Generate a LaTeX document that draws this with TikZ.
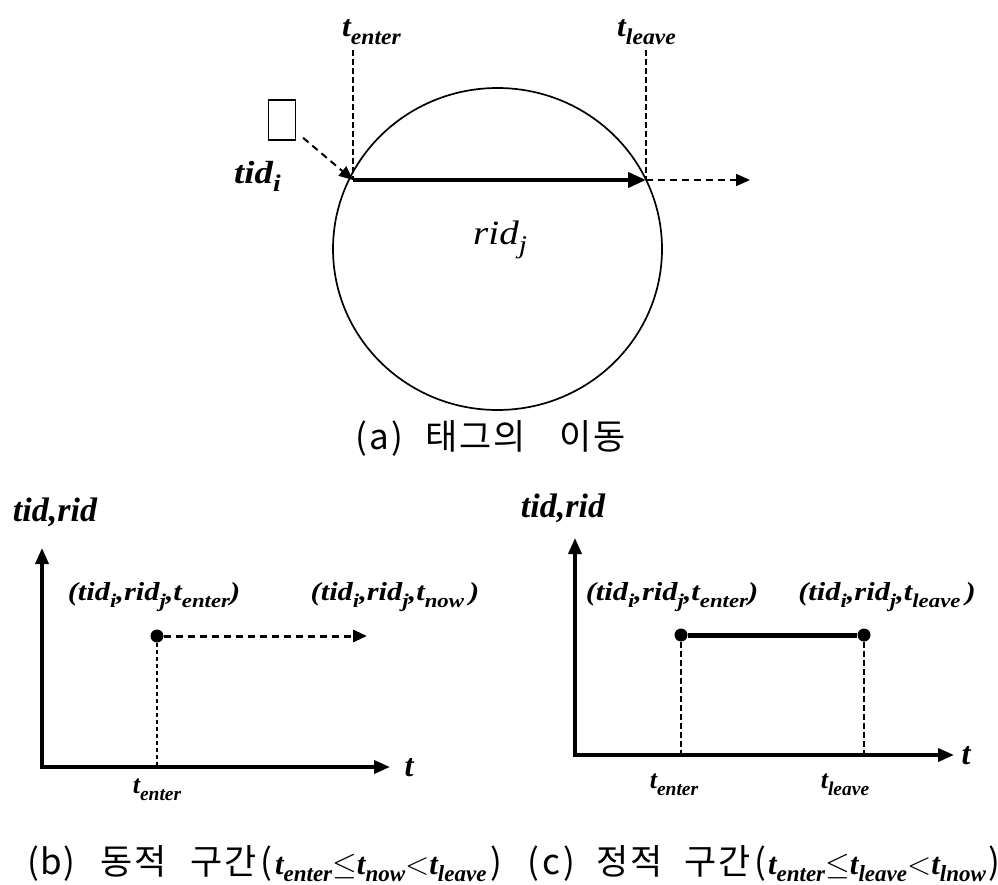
\documentclass[tikz,border=0pt]{standalone}
\usepackage{fontspec}
\usepackage{graphicx}
\setmainfont{Liberation Serif}
\newfontfamily\kr{Noto Sans CJK KR}
\usetikzlibrary{arrows.meta,shapes.geometric}
\newcommand{\lo}[1]{\raisebox{-0.25em}{\scalebox{0.75}{#1}}}
\newcommand{\fsz}[1]{\fontsize{#1}{#1}\selectfont}
\newcommand{\wx}[2]{\scalebox{#1}[1]{#2}}
\newcommand{\hb}[1]{\makebox[34pt][c]{#1}}
\newcommand{\capsub}[1]{\scalebox{1.28}{\rmfamily\bfseries\itshape\fsz{24}#1}}
\begin{document}
\begin{tikzpicture}[x=1pt,y=-1pt,
  lbl/.style={inner sep=0pt, font=\bfseries\itshape},
  tipA/.style={-{Triangle[length=14pt,width=12pt]}},
  dsh/.style={dash pattern=on 7pt off 5pt, line width=2pt},
  fine/.style={dash pattern=on 6pt off 3pt, line width=1.8pt},
  dotted2/.style={dash pattern=on 4pt off 3pt, line width=2pt},
  axis/.style={line width=3.5pt, -{Triangle[length=16pt,width=13pt]}},
  dot/.style={circle, fill=black, minimum size=13pt, inner sep=0pt},
  captxt/.style={inner sep=0pt, font=\kr\fsz{35}, anchor=base west},
  tuple/.style={inner sep=0pt, font=\bfseries\itshape\fsz{26}},
]
\useasboundingbox (0,0) rectangle (998,885);

% ---------- (a) ----------
\node[ellipse, draw, line width=1.7pt, minimum width=329pt, minimum height=322pt, inner sep=0pt] (circ) at (497.5,249) {};
\node[draw, line width=1.5pt, minimum width=27pt, minimum height=40pt, inner sep=0pt] (tag) at (282,120) {};
\coordinate (in) at (353,180);
\coordinate (out) at (646,180);
\coordinate (far) at (750,180);
\coordinate (inTop) at (353,50);
\coordinate (outTop) at (646,50);
\node[lbl, anchor=base west] (tenter) at (342,37) {\fsz{30}\wx{1.05}{t\lo{enter}}};
\node[lbl, anchor=base west] (tleave) at (617,37) {\fsz{30}\wx{1.05}{t\lo{leave}}};
\node[lbl, anchor=base west] (tid) at (234,184) {\fsz{32}\wx{1.15}{tid\lo{i}}};
\node[inner sep=0pt, font=\itshape\fsz{34}, anchor=base west] (rid) at (473,245) {\wx{1.15}{rid\lo{j}}};
\draw[fine] (inTop) -- (in);
\draw[fine] (outTop) -- (out);
\draw[dsh, tipA, shorten <=9pt] (tag) -- (in);
\draw[line width=4pt, -{Triangle[length=18pt,width=15pt]}] (in) -- (out);
\draw[dsh, tipA] (out) -- (far);
\node[captxt] (capa) at (355,449) {\makebox[48pt][s]{(\hfill a\hfill)}\hspace{21pt}\hb{태}\hb{그}\hb{의}\hspace{32pt}\hb{이}\hb{동}};

% ---------- (b) ----------
\coordinate (bO) at (42,767);
\coordinate (bY) at (42,548);
\coordinate (bX) at (390,767);
\node[lbl, font=\bfseries\itshape\fsz{34}] (bax) at (55,512) {tid,rid};
\draw[axis] (bO) -- (bY);
\draw[axis] ([xshift=-2pt]bO) -- (bX);
\node[lbl, font=\bfseries\itshape\fsz{32}] (bt) at (409,768) {t};
\node[dot] (bP) at (157,636) {};
\coordinate (bEnd) at (367,636);
\draw[dsh, line width=3pt, tipA] (bP) -- (bEnd);
\draw[dotted2] (bP) -- (bP |- bO);
\node[tuple] (bl1) at (154,597) {\wx{1.17}{(tid\lo{i},rid\lo{j},t\lo{enter})}};
\node[tuple] (bl2) at (395,597) {\wx{1.17}{(tid\lo{i},rid\lo{j},t\lo{now}\,)}};
\node[lbl, font=\bfseries\itshape\fsz{26}] (bte) at (157,790) {t\lo{enter}};

% ---------- (c) ----------
\coordinate (cO) at (575,755);
\coordinate (cY) at (575,538);
\coordinate (cX) at (954,755);
\node[lbl, font=\bfseries\itshape\fsz{34}] (cax) at (563,508) {tid,rid};
\draw[axis] (cO) -- (cY);
\draw[axis] ([xshift=-2pt]cO) -- (cX);
\node[lbl, font=\bfseries\itshape\fsz{32}] (ct) at (966,756) {t};
\node[dot] (cP) at (681,635) {};
\node[dot] (cQ) at (864,635) {};
\draw[line width=5pt] (cP) -- (cQ);
\draw[fine] (cP) -- (cP |- cO);
\draw[fine] (cQ) -- (cQ |- cO);
\node[tuple] (cl1) at (672,597) {\wx{1.17}{(tid\lo{i},rid\lo{j},t\lo{enter})}};
\node[tuple] (cl2) at (887,597) {\wx{1.17}{(tid\lo{i},rid\lo{j},t\lo{leave}\,)}};
\node[lbl, font=\bfseries\itshape\fsz{26}] (cte) at (674,785) {t\lo{enter}};
\node[lbl, font=\bfseries\itshape\fsz{26}] (ctl) at (845,785) {t\lo{leave}};

% ---------- captions ----------
\node[captxt] (capb) at (27,874) {\makebox[48pt][s]{(\hfill b\hfill)}\hspace{24pt}\hb{동}\hb{적}\hspace{22pt}\hb{구}\hb{간}\hspace{3pt}(\hspace{3pt}\capsub{t\lo{enter}$\leq$t\lo{now}$<$t\lo{leave}}\hspace{4pt})};
\node[captxt] (capc) at (527,874) {\makebox[48pt][s]{(\hfill c\hfill)}\hspace{20pt}\hb{정}\hb{적}\hspace{20pt}\hb{구}\hb{간}\hspace{3pt}(\hspace{2pt}\capsub{t\lo{enter}$\leq$t\lo{leave}$<$t\lo{lnow}}\hspace{2pt})};
\end{tikzpicture}
\end{document}
